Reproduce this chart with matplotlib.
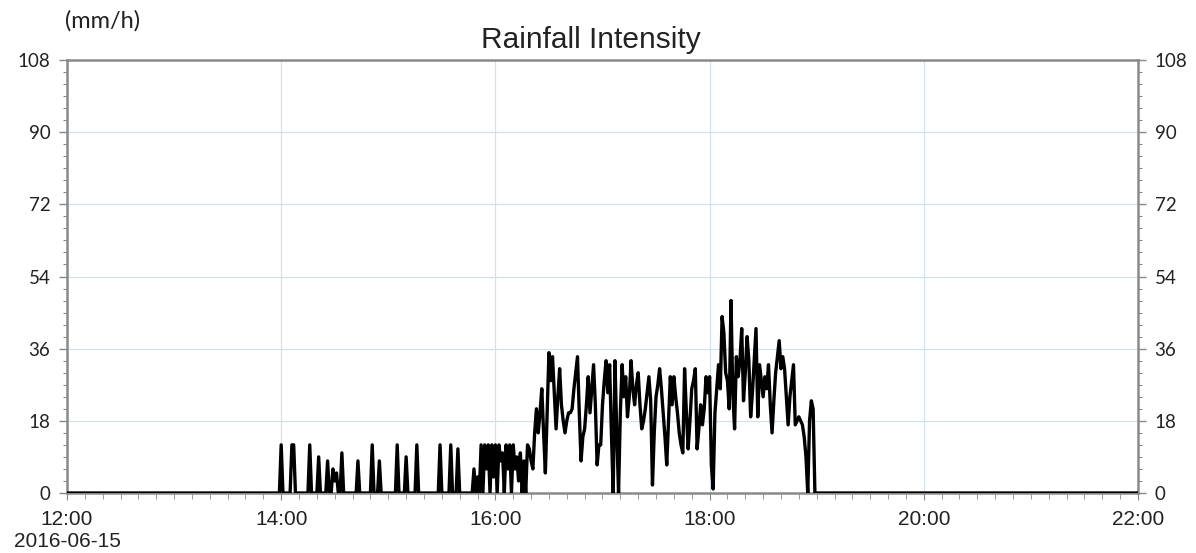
import matplotlib
matplotlib.use('Agg')
import matplotlib.pyplot as plt
import matplotlib.dates as mdates
import matplotlib.ticker as mticker
import pandas as pd

# rainfall intensity (mm/h), one value per minute from 14:00 to 19:00
rain_1400 = [12, 0, 0, 0, 0, 0, 12, 12, 0, 0]
rain_1410 = [0, 0, 0, 0, 0, 0, 12, 0, 0, 0]
rain_1420 = [0, 9, 0, 0, 0, 0, 8, 0, 0, 6]
rain_1430 = [3, 5, 0, 0, 10, 0, 0, 0, 0, 0]
rain_1440 = [0, 0, 0, 8, 0, 0, 0, 0, 0, 0]
rain_1450 = [0, 12, 0, 0, 0, 8, 0, 0, 0, 0]
rain_1500 = [0, 0, 0, 0, 0, 12, 0, 0, 0, 0]
rain_1510 = [9, 0, 0, 0, 0, 0, 12, 0, 0, 0]
rain_1520 = [0, 0, 0, 0, 0, 0, 0, 0, 0, 12]
rain_1530 = [0, 0, 0, 0, 0, 12, 0, 0, 0, 11]
rain_1540 = [0, 0, 0, 0, 0, 0, 0, 0, 6, 0]
rain_1550 = [4, 0, 12, 0, 12, 6, 12, 0, 12, 4]
rain_1600 = [12, 0, 12, 8, 10, 0, 12, 6, 12, 0]
rain_1610 = [12, 6, 9, 3, 10, 0, 8, 0, 12, 11]
rain_1620 = [8, 6, 15, 21, 15, 20, 26, 15, 5, 20]
rain_1630 = [35, 28, 34, 25, 16, 24, 31, 22, 18, 15]
rain_1640 = [18, 20, 20, 21, 26, 30, 34, 20, 8, 14]
rain_1650 = [16, 22, 29, 20, 26, 32, 22, 7, 12, 12]
rain_1700 = [22, 28, 33, 25, 32, 15, 0, 33, 15, 0]
rain_1710 = [20, 32, 24, 29, 19, 24, 33, 26, 22, 27]
rain_1720 = [30, 22, 16, 18, 21, 25, 29, 23, 2, 15]
rain_1730 = [24, 27, 31, 26, 20, 14, 7, 18, 29, 22]
rain_1740 = [29, 24, 20, 15, 12, 10, 31, 20, 11, 18]
rain_1750 = [26, 28, 31, 11, 16, 22, 17, 21, 29, 25]
rain_1800 = [29, 7, 1, 20, 26, 32, 26, 44, 40, 30]
rain_1810 = [28, 21, 48, 25, 16, 34, 29, 33, 41, 23]
rain_1820 = [30, 39, 33, 19, 25, 33, 41, 19, 32, 28]
rain_1830 = [24, 29, 26, 32, 22, 15, 23, 30, 34, 38]
rain_1840 = [31, 34, 31, 24, 17, 24, 28, 32, 17, 18]
rain_1850 = [19, 18, 17, 14, 9, 0, 18, 23, 21, 0]
rain_1900 = [0]

rain = (rain_1400 + rain_1410 + rain_1420 + rain_1430 + rain_1440 + rain_1450 +
        rain_1500 + rain_1510 + rain_1520 + rain_1530 + rain_1540 + rain_1550 +
        rain_1600 + rain_1610 + rain_1620 + rain_1630 + rain_1640 + rain_1650 +
        rain_1700 + rain_1710 + rain_1720 + rain_1730 + rain_1740 + rain_1750 +
        rain_1800 + rain_1810 + rain_1820 + rain_1830 + rain_1840 + rain_1850 +
        rain_1900)

day = '2016-06-15'
t_start, t_end = '12:00', '22:00'
yticks = [0, 18, 36, 54, 72, 90, 108]

minutes = pd.date_range(day + ' 14:00', periods=len(rain), freq='min')
times = ([pd.Timestamp(day + ' ' + t_start), pd.Timestamp(day + ' 13:59')] +
         list(minutes) + [pd.Timestamp(day + ' 19:01'), pd.Timestamp(day + ' ' + t_end)])
vals = [0, 0] + rain + [0, 0]

fig = plt.figure(figsize=(11.96, 5.53), dpi=100)
ax = fig.add_axes([0.056, 0.1085, 0.8955, 0.783])

ax.plot(times, vals, color='black', lw=2.4, zorder=3, solid_joinstyle='round')

ax.set_xlim(pd.Timestamp(day + ' ' + t_start), pd.Timestamp(day + ' ' + t_end))
ax.set_ylim(0, 108)

ax.xaxis.set_major_locator(mdates.HourLocator(byhour=range(0, 24, 2)))
ax.xaxis.set_minor_locator(mdates.MinuteLocator(byminute=range(0, 60, 10)))

def fmt(x, pos):
    d = mdates.num2date(x)
    s = d.strftime('%H:%M')
    if pos == 0:
        s += '\n' + d.strftime('%Y-%m-%d')
    return s

ax.xaxis.set_major_formatter(mticker.FuncFormatter(fmt))
ax.set_yticks(yticks)
ax.yaxis.set_minor_locator(mticker.MultipleLocator(3))

ax.tick_params(axis='y', which='both', left=True, right=True, labelleft=True,
               labelright=True, direction='out', colors='#888888',
               labelcolor='#222222', labelsize=13.5, pad=6)
ax.tick_params(axis='y', which='major', length=6, width=1)
ax.tick_params(axis='y', which='minor', length=3, width=0.8)
ax.tick_params(axis='x', which='both', direction='out', colors='#888888',
               labelcolor='#222222', labelsize=15)
ax.tick_params(axis='x', which='major', length=5, pad=7)
ax.tick_params(axis='x', which='minor', length=4)

for lab in ax.get_yticklabels():
    lab.set_fontfamily('Lato')
for lab in ax.get_xticklabels():
    lab.set_fontfamily('Liberation Sans')
    lab.set_linespacing(1.25)

ax.grid(True, which='major', color='#d3e1ee', lw=0.9)
for s in ax.spines.values():
    s.set_color('#8a8a8a')
    s.set_linewidth(1.8)

fig.text(0.494, 0.928, 'Rainfall Intensity', ha='center', va='center',
         fontsize=21.5, family='Liberation Sans', color='#222222')
fig.text(0.054, 0.962, '(mm/h)', ha='left', va='center', fontsize=17,
         family='Lato', color='#222222')

fig.savefig('out.png', dpi=100)
